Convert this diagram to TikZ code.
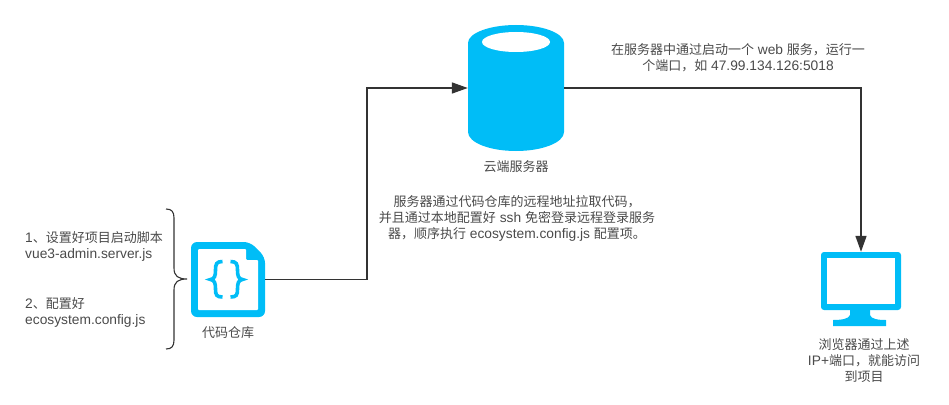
\documentclass[tikz,border=0pt]{standalone}
\usepackage{fontspec}
\setmainfont[Scale=1.06]{Liberation Sans}
\newfontfamily\cjk{Noto Sans CJK SC}
\newcommand{\zh}[1]{{\cjk #1}}
\usetikzlibrary{arrows.meta}
\definecolor{iconblue}{HTML}{00BDF7}
\definecolor{linkgray}{HTML}{333333}
\definecolor{textgray}{HTML}{4A4A4A}
\tikzset{
  label/.style={text=textgray,font=\fontsize{13}{16}\selectfont,inner sep=0pt,align=center},
  iconbox/.style={inner sep=0pt,minimum width=#1},
  link/.style={draw=linkgray,line width=1.6pt,-{Triangle[length=16pt,width=11pt]}},
}
\begin{document}
\begin{tikzpicture}[x=1pt,y=-1pt]
\useasboundingbox(0,0)rectangle(949,404);
% file icon
\node[iconbox=74,minimum height=76](repo)at(228,279.5){};
\fill[iconblue,rounded corners=6](191,242)--(250,242)--(265,257)--(265,317)--(191,317)--cycle;
\fill[white,rounded corners=1](198,249)--(246,249)--(246,260)--(258,260)--(258,310)--(198,310)--cycle;
\foreach \s in {1,-1}{
  \draw[iconblue,line width=3.6pt,shift={(226.5,0)},xscale=\s]
    (-4,261.5)..controls(-10,261.5)and(-11,264)..(-11,270)..controls(-11,276)and(-12,279)..(-16,279.5)
    ..controls(-12,280)and(-11,283)..(-11,289)..controls(-11,295)and(-10,297)..(-4,297);
}
% cloud server
\node[iconbox=96,minimum height=126](server)at(516,88){};
\fill[iconblue](468,43)arc[start angle=-180,end angle=0,x radius=48,y radius=18]--(564,132)
  arc[start angle=0,end angle=180,x radius=48,y radius=19]--cycle;
\fill[white](516,42)ellipse[x radius=34,y radius=10];
% monitor
\node[iconbox=80,minimum height=74](screen)at(861,289){};
\fill[iconblue,rounded corners=3](821,252)rectangle(901,310);
\fill[white](827,258)rectangle(895,304);
\fill[iconblue](850,309)--(870,309)--(870,315)..controls(871,319)and(878,320)..(886,320)--(886,326)--(833,326)--(833,320)
  ..controls(841,320)and(849,319)..(850,315)--cycle;
% connectors
\coordinate(bend)at(367,88);
\draw[link](repo.east)-|(bend)--(server.west);
\draw[link](server.east)-|(screen.north);
% brace
\draw[linkgray,line width=1.1pt](166,209)..controls(172,209)and(174,212)..(174,218)--(174,268)
  ..controls(174,276)and(178,279)..(187,279)..controls(178,279)and(174,282)..(174,290)--(174,340)
  ..controls(174,346)and(172,349)..(166,349);
% texts
\node[label,align=left,anchor=west](stepa)at(25,246.5){1\zh{、设置好项目启动脚本}\\vue3-admin.server.js};
\node[label,align=left,anchor=west](stepb)at(25,312.5){2\zh{、配置好}\\ecosystem.config.js};
\node[label](repolabel)at(228,333){\zh{代码仓库}};
\node[label](serverlabel)at(516,167){\zh{云端服务器}};
\node[label](pull)at(517,218){\zh{服务器通过代码仓库的远程地址拉取代码，}\\\zh{并且通过本地配置好} ssh \zh{免密登录远程登录服务}\\\zh{器，顺序执行} ecosystem.config.js \zh{配置项。}};
\node[label](run)at(738,58){\zh{在服务器中通过启动一个} web \zh{服务，运行一}\\\zh{个端口，如} 47.99.134.126:5018};
\node[label](visit)at(864,361){\zh{浏览器通过上述}\\IP+\zh{端口，就能访问}\\\zh{到项目}};
\end{tikzpicture}
\end{document}
